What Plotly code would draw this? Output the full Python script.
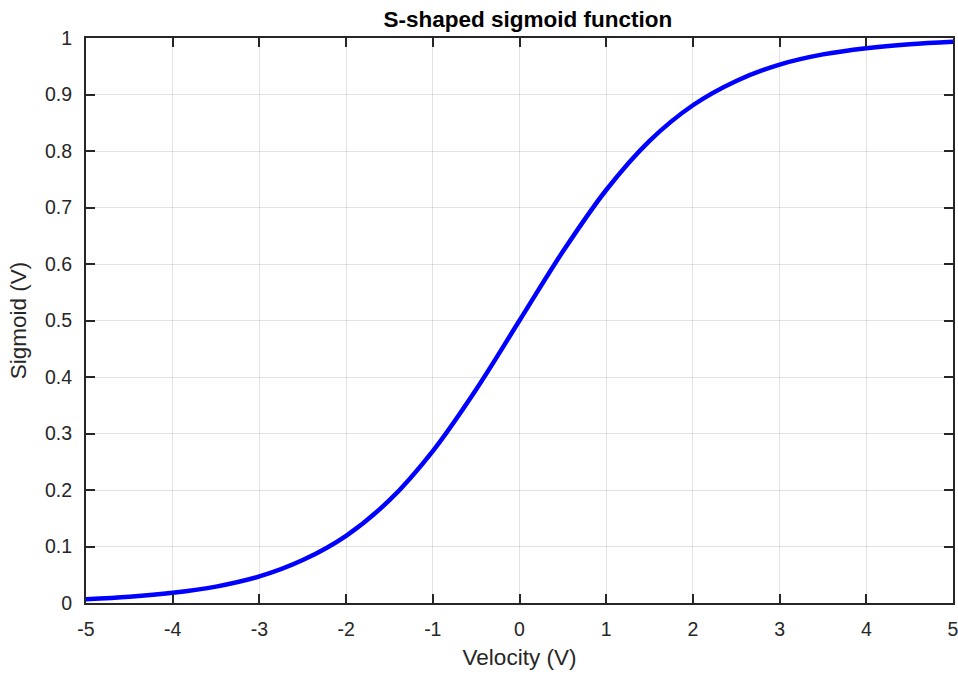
import plotly.graph_objects as go

velocity = [-5, -4.5, -4, -3.5, -3, -2.5, -2, -1.5, -1, -0.5, 0, 0.5, 1, 1.5, 2, 2.5, 3, 3.5, 4, 4.5, 5]
sigmoid = [0.0067, 0.011, 0.018, 0.029, 0.047, 0.076, 0.119, 0.182, 0.269, 0.378, 0.5,
           0.622, 0.731, 0.818, 0.881, 0.924, 0.953, 0.971, 0.982, 0.989, 0.9933]

x_ticks = [-5, -4, -3, -2, -1, 0, 1, 2, 3, 4, 5]
y_ticks = [0, 0.1, 0.2, 0.3, 0.4, 0.5, 0.6, 0.7, 0.8, 0.9, 1]
x_labels = ["-5", "-4", "-3", "-2", "-1", "0", "1", "2", "3", "4", "5"]
y_labels = ["0", "0.1", "0.2", "0.3", "0.4", "0.5", "0.6", "0.7", "0.8", "0.9", "1"]

font = "Liberation Sans, Arial, Helvetica, sans-serif"
dark = "#262626"

fig = go.Figure()
fig.add_trace(go.Scatter(x=velocity, y=sigmoid, mode="lines",
                         line=dict(color="#0000ff", width=4.5, shape="spline"),
                         showlegend=False, cliponaxis=False))

axis_common = dict(showline=True, linecolor=dark, linewidth=2, mirror="ticks",
                   ticks="inside", ticklen=9, tickwidth=2, tickcolor=dark,
                   showgrid=True, gridcolor="rgba(0,0,0,0.11)", gridwidth=1,
                   zeroline=False, automargin=False, ticklabeloverflow="allow",
                   tickfont=dict(family=font, size=19.5, color=dark))

fig.update_xaxes(range=[-5, 5], tickvals=x_ticks, ticktext=x_labels, ticklabelstandoff=8,
                 title=dict(text="Velocity (V)", font=dict(family=font, size=22.5, color=dark), standoff=10),
                 **axis_common)
fig.update_yaxes(range=[0, 1], tickvals=y_ticks, ticktext=y_labels, ticklabelstandoff=8,
                 title=dict(text="Sigmoid (V)", font=dict(family=font, size=22.5, color=dark), standoff=12),
                 **axis_common)

fig.update_layout(width=958, height=675, paper_bgcolor="white", plot_bgcolor="white",
                  margin=dict(l=86, r=5, t=38, b=72, autoexpand=False),
                  title=dict(text="<b>S-shaped sigmoid function</b>", x=0.551, xanchor="center",
                             xref="container", y=1 - 19 / 675, yanchor="middle", yref="container",
                             font=dict(family=font, size=22.5, color="black")))

fig.write_html("out.html", config={"displayModeBar": False},
               post_script="document.body.style.margin='0';document.body.style.overflow='hidden';")
